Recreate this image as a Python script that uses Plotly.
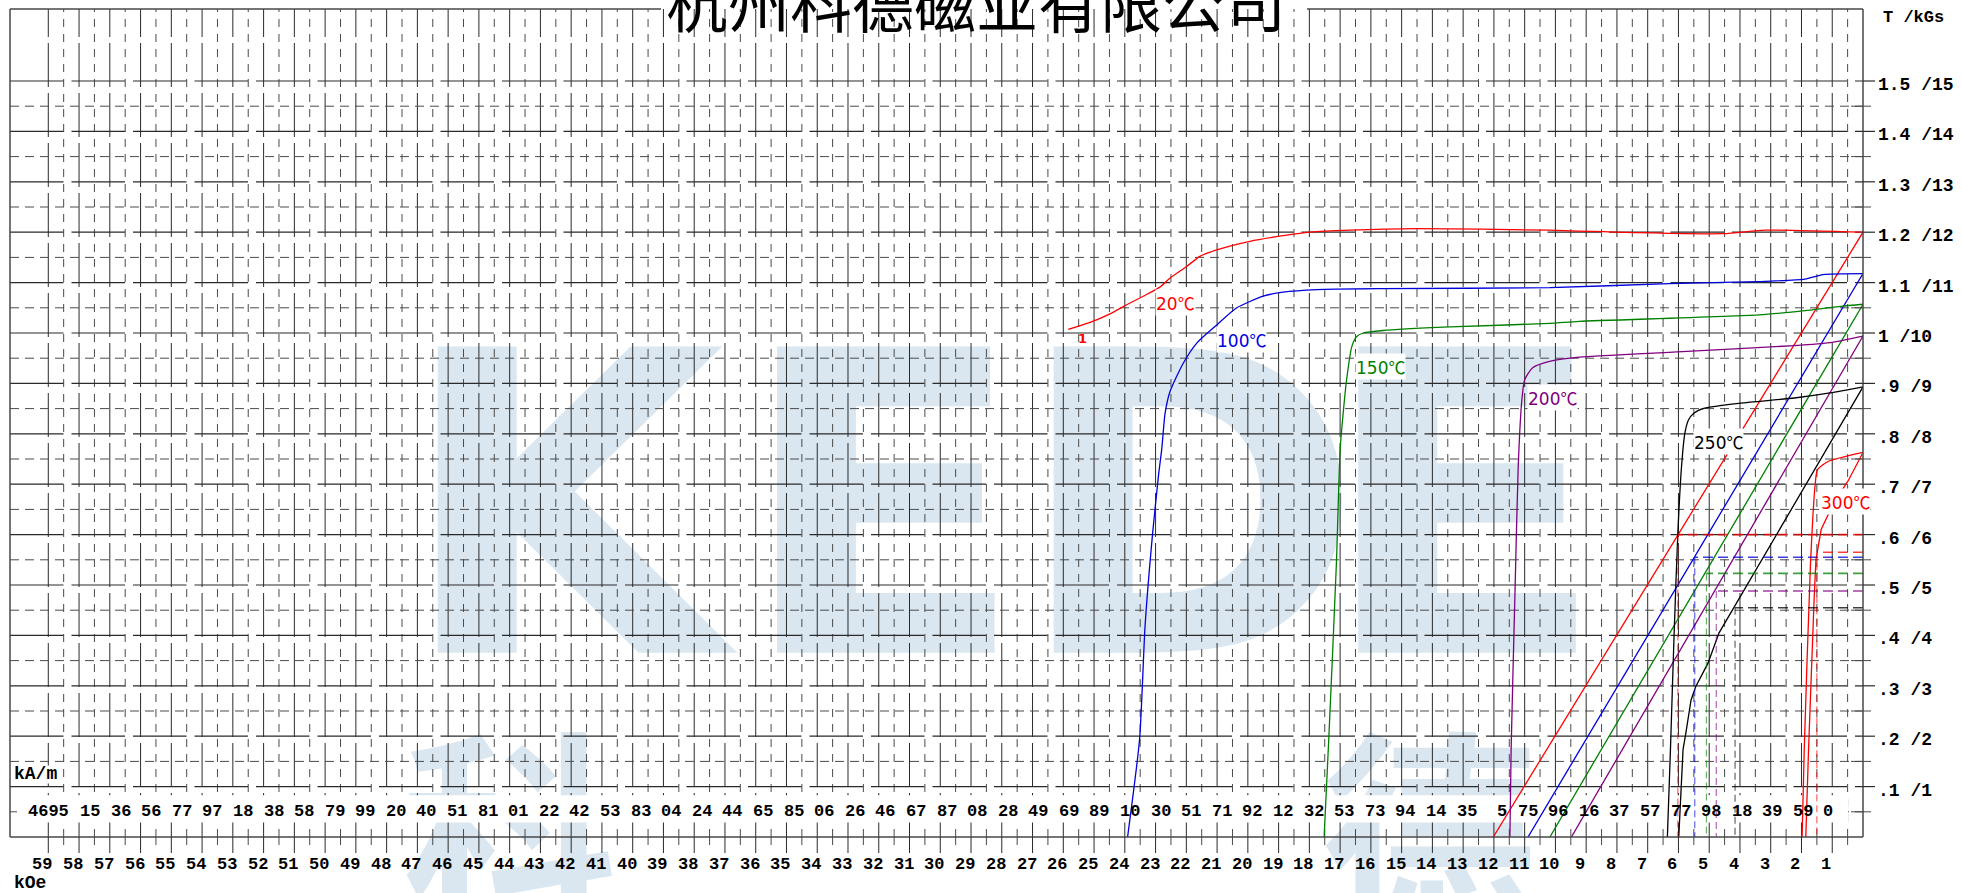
import plotly.graph_objects as go

# ---------------- frame geometry (pixels in the 1962x893 page) ----------------
FIG_W, FIG_H = 1962, 893
PL, PT, PR, PB = 10, 9, 1863, 837          # plot frame
H_MAX = 60.245                              # kOe at the left frame (axis reversed, 0 at right)
B_MAX = (PB - PT) / 504.0                   # Tesla at the top frame

def paper_x(px):
    return (px - PL) / (PR - PL)

def paper_y(py):
    return (PB - py) / (PB - PT)

def h_of_px(px):
    return (PR - px) / ((PR - PL) / H_MAX)

# ---------------- data ----------------
kOe_ticks = list(range(59, 0, -1))
kOe_labels = [str(v) for v in kOe_ticks]

kAm_labels = ["4695", "15", "36", "56", "77", "97", "18", "38", "58", "79", "99", "20",
              "40", "51", "81", "01", "22", "42", "53", "83", "04", "24", "44", "65",
              "85", "06", "26", "46", "67", "87", "08", "28", "49", "69", "89", "10",
              "30", "51", "71", "92", "12", "32", "53", "73", "94", "14", "35", "5",
              "75", "96", "16", "37", "57", "77", "98", "18", "39", "59", "0"]

B_ticks = [1.5, 1.4, 1.3, 1.2, 1.1, 1.0, 0.9, 0.8, 0.7, 0.6, 0.5, 0.4, 0.3, 0.2, 0.1]
B_labels = ["1.5 /15", "1.4 /14", "1.3 /13", "1.2 /12", "1.1 /11", "1 /10", ".9 /9",
            ".8 /8", ".7 /7", ".6 /6", ".5 /5", ".4 /4", ".3 /3", ".2 /2", ".1 /1"]

# intrinsic (J) curves, H in kOe, B in T
j20_H = [25.84, 25.13, 24.48, 23.94, 23.40, 22.86, 22.53, 21.99, 21.56, 21.01, 19.93,
         18.85, 17.98, 16.68, 14.51, 10.18, 9.23, 4.56, 3.17, 0.0]
j20_B = [1.007, 1.021, 1.038, 1.056, 1.073, 1.091, 1.109, 1.132, 1.152, 1.165, 1.182,
         1.193, 1.200, 1.204, 1.207, 1.204, 1.202, 1.197, 1.204, 1.200]

j100_H = [23.91, 23.52, 23.34, 23.10, 22.90, 22.80, 22.69, 22.53, 22.10, 21.66, 21.01,
          20.36, 19.50, 18.85, 17.76, 15.60, 10.18, 6.31, 3.40, 1.89, 1.30, 0.0]
j100_B = [0.0, 0.194, 0.420, 0.600, 0.720, 0.769, 0.841, 0.884, 0.940, 0.980, 1.016,
          1.050, 1.073, 1.081, 1.086, 1.088, 1.090, 1.098, 1.102, 1.107, 1.116, 1.118]

j150_H = [17.52, 17.37, 17.12, 17.00, 16.90, 16.79, 16.62, 16.46, 16.25, 15.60, 13.43,
          10.18, 9.23, 3.40, 1.65, 0.72, 0.0]
j150_B = [0.0, 0.193, 0.544, 0.769, 0.841, 0.907, 0.973, 0.993, 1.000, 1.005, 1.012,
          1.019, 1.023, 1.036, 1.046, 1.053, 1.057]

j200_H = [11.48, 11.44, 11.32, 11.21, 11.09, 11.00, 10.74, 10.16, 9.23, 5.73, 2.23, 1.07, 0.0]
j200_B = [0.0, 0.174, 0.471, 0.735, 0.868, 0.907, 0.931, 0.944, 0.952, 0.9635, 0.975, 0.981, 0.994]

j250_H = [6.36, 6.26, 6.14, 6.02, 5.90, 5.79, 5.67, 5.50, 5.15, 3.98, 2.23, 1.07, 0.0]
j250_B = [0.0, 0.174, 0.405, 0.603, 0.735, 0.802, 0.828, 0.841, 0.851, 0.861, 0.871, 0.881, 0.893]

j300_H = [1.98, 1.91, 1.71, 1.56, 1.48, 1.13, 0.0]
j300_B = [0.0, 0.174, 0.537, 0.696, 0.729, 0.745, 0.763]

# normal (B) curves
b20_H = [12.02, 0.0]
b20_B = [0.0, 1.200]
b100_H = [10.89, 0.0]
b100_B = [0.0, 1.118]
b150_H = [10.18, 0.0]
b150_B = [0.0, 1.057]
b200_H = [9.48, 0.0]
b200_B = [0.0, 0.994]
b250_H = [5.99, 5.85, 5.76, 5.59, 5.44, 5.04, 4.68, 0.0]
b250_B = [0.0, 0.174, 0.206, 0.272, 0.298, 0.345, 0.405, 0.893]
b300_H = [1.86, 1.77, 1.59, 1.53, 1.36, 0.95, 0.49, 0.0]
b300_B = [0.0, 0.174, 0.471, 0.550, 0.610, 0.663, 0.706, 0.763]

# working points (dashed guide lines)
wp_H = [6.02, 5.47, 5.09, 4.77, 4.16, 1.50]
wp_B = [0.600, 0.555, 0.523, 0.488, 0.455, 0.565]

series_colors = ["#ff0000", "#0000dd", "#008000", "#800080", "#000000", "#ff0000"]
temp_values = ["20", "100", "150", "200", "250", "300"]
temp_label_H = [22.34, 20.22, 15.70, 10.08, 4.71, 0.585]
temp_label_B = [1.060, 0.987, 0.933, 0.872, 0.784, 0.665]
num_labels = ["1", "2", "3", "4", "5", "6"]
num_label_H = [25.36, 23.44, 17.01, 10.99, 5.92, 1.53]
num_label_B = [0.990, -0.017, -0.017, -0.017, -0.017, -0.017]

watermark_letters = ["K", "E", "D", "E"]
watermark_H = [42.3, 31.9, 21.9, 13.0]
watermark_B = [0.574, 0.574, 0.574, 0.574]
watermark_cjk = ["科", "德"]
watermark_cjk_H = [44.0, 14.1]
watermark_cjk_B = [0.165, 0.165]      # top edge of the glyphs

title_text = "杭州科德磁业有限公司"

# ---------------- figure ----------------
fig = go.Figure()
WM = "#dae7f1"

# watermark
fig.add_trace(go.Scatter(
    x=watermark_H, y=watermark_B, mode="text", text=watermark_letters,
    textfont=dict(size=420, color=WM, family="DejaVu Sans", weight="bold"),
    hoverinfo="skip", cliponaxis=True))
fig.add_trace(go.Scatter(
    x=watermark_cjk_H, y=watermark_cjk_B, mode="text", text=watermark_cjk,
    textposition="bottom center",
    textfont=dict(size=215, color=WM, family="Noto Sans CJK SC", weight="bold"),
    hoverinfo="skip", cliponaxis=False))

GRID_SOLID = "#2a2a2a"
GRID_DASH = "#4a4a4a"

def seg_trace(xs_list, ys_list, color, width, dash):
    xs, ys = [], []
    for xa, ya in zip(xs_list, ys_list):
        xs += list(xa) + [None]
        ys += list(ya) + [None]
    return go.Scatter(x=xs, y=ys, mode="lines", hoverinfo="skip",
                      line=dict(color=color, width=width, dash=dash), connectgaps=False)

# vertical grid lines
solid_v = [float(v) for v in range(1, 60)]
dash_v = [v + 0.5 for v in range(0, 59)]
fig.add_trace(seg_trace([[v, v] for v in solid_v], [[0, B_MAX]] * len(solid_v),
                        GRID_SOLID, 1, "44px,6px"))
fig.add_trace(seg_trace([[v, v] for v in dash_v], [[0, B_MAX]] * len(dash_v),
                        GRID_DASH, 1, "8px,7px"))
# horizontal grid lines
major_h = [round(0.1 * k, 2) for k in range(1, 16)]
minor_h = [round(0.05 + 0.1 * k, 3) for k in range(0, 15)]
fig.add_trace(seg_trace([[H_MAX, 0]] * len(major_h), [[b, b] for b in major_h],
                        GRID_SOLID, 1.2, "53.5px,8px"))
fig.add_trace(seg_trace([[H_MAX, 0]] * len(minor_h), [[b, b] for b in minor_h],
                        GRID_DASH, 1, "9px,6px"))

# white label strips
def white_box(h0, h1, b0, b1):
    return go.Scatter(x=[h0, h1, h1, h0, h0], y=[b0, b0, b1, b1, b0], mode="lines",
                      fill="toself", fillcolor="white", line=dict(width=0, color="white"),
                      hoverinfo="skip")

fig.add_trace(white_box(h_of_px(17), h_of_px(1848), 0.029, 0.083))
fig.add_trace(white_box(H_MAX, h_of_px(61), 0.106, 0.142))

# curves
curves = [(j20_H, j20_B, b20_H, b20_B), (j100_H, j100_B, b100_H, b100_B),
          (j150_H, j150_B, b150_H, b150_B), (j200_H, j200_B, b200_H, b200_B),
          (j250_H, j250_B, b250_H, b250_B), (j300_H, j300_B, b300_H, b300_B)]
for (jh, jb, bh, bb), col in zip(curves, series_colors):
    fig.add_trace(go.Scatter(x=jh, y=jb, mode="lines",
                             line=dict(color=col, width=1.3, shape="spline", smoothing=0.6),
                             hoverinfo="skip"))
    fig.add_trace(go.Scatter(x=bh, y=bb, mode="lines", line=dict(color=col, width=1.3),
                             hoverinfo="skip"))

# working point guide lines
for h, b, col in zip(wp_H, wp_B, series_colors):
    fig.add_trace(go.Scatter(x=[0, h], y=[b, b], mode="lines", opacity=0.75,
                             line=dict(color=col, width=1.6, dash="10px,5px"), hoverinfo="skip"))
    fig.add_trace(go.Scatter(x=[h, h], y=[b, 0], mode="lines", opacity=0.6,
                             line=dict(color=col, width=1.2, dash="7px,4px"), hoverinfo="skip"))

# ---------------- shapes: frame and outer ticks ----------------
shapes = []
FRAME = "#474747"
def pline(x0, y0, x1, y1, color=FRAME, width=1.5):
    shapes.append(dict(type="line", xref="paper", yref="paper",
                       x0=paper_x(x0), y0=paper_y(y0), x1=paper_x(x1), y1=paper_y(y1),
                       line=dict(color=color, width=width), layer="above"))

pline(PL, PT, PL, PB)
pline(PR, PT, PR, PB)
pline(PL, PB, PR, PB)
pline(PL, PT, 661, PT)
pline(1307, PT, PR, PT)

px_per_kOe = (PR - PL) / H_MAX
px_per_T = 504.0
# right ticks
for b in major_h:
    y = PB - b * px_per_T
    pline(PR, y, PR + 12, y, GRID_SOLID, 1.2)
for b in minor_h:
    y = PB - b * px_per_T
    pline(PR - 12, y, PR + 8, y, GRID_DASH, 1)
# bottom ticks
for v in solid_v:
    x = PR - v * px_per_kOe
    pline(x, PB, x, PB + 16, GRID_SOLID, 1)
for v in dash_v:
    x = PR - v * px_per_kOe
    pline(x, PB, x, PB + 8, GRID_DASH, 1)

# ---------------- annotations ----------------
ann = []
MONO = "Liberation Mono"

for v, lab in zip(kOe_ticks, kOe_labels):
    ann.append(dict(x=v, y=0, xref="x", yref="y", text=lab, showarrow=False,
                    xanchor="center", yanchor="middle", xshift=-6, yshift=-27,
                    font=dict(family=MONO, size=17, color="black", weight="bold")))

kam_step = 0.99454
for i, lab in enumerate(kAm_labels):
    hr = 58.249 - kam_step * i
    if i == len(kAm_labels) - 1:
        hr = h_of_px(1835)
    ann.append(dict(x=hr, y=0.051, xref="x", yref="y", text=lab, showarrow=False,
                    xanchor="right", yanchor="middle",
                    font=dict(family=MONO, size=17, color="black", weight="bold")))

for b, lab in zip(B_ticks, B_labels):
    ann.append(dict(x=paper_x(1876), y=b, xref="paper", yref="y", text=lab, showarrow=False,
                    xanchor="left", yanchor="middle", yshift=-4,
                    font=dict(family=MONO, size=18, color="black", weight="bold")))

ann.append(dict(x=paper_x(1881), y=paper_y(17), xref="paper", yref="paper", text="T /kGs",
                showarrow=False, xanchor="left", yanchor="middle",
                font=dict(family=MONO, size=17, color="black", weight="bold")))
ann.append(dict(x=paper_x(12), y=paper_y(774), xref="paper", yref="paper", text="kA/m",
                showarrow=False, xanchor="left", yanchor="middle",
                font=dict(family=MONO, size=18, color="black", weight="bold")))
ann.append(dict(x=paper_x(12), y=paper_y(883), xref="paper", yref="paper", text="kOe",
                showarrow=False, xanchor="left", yanchor="middle",
                font=dict(family=MONO, size=18, color="black", weight="bold")))

for t, h, b, col in zip(temp_values, temp_label_H, temp_label_B, series_colors):
    txt = t + "<span style='font-family:Noto Sans CJK SC'>℃</span>"
    ann.append(dict(x=h, y=b, xref="x", yref="y", text=txt, showarrow=False,
                    xanchor="center", yanchor="middle", bgcolor="white", borderpad=0,
                    font=dict(family="DejaVu Sans", size=17, color=col)))

for t, h, b, col in zip(num_labels, num_label_H, num_label_B, series_colors):
    ann.append(dict(x=h, y=b, xref="x", yref="y", text=t, showarrow=False,
                    xanchor="center", yanchor="middle",
                    font=dict(family="DejaVu Sans", size=13, color=col, weight="bold")))

ann.append(dict(x=paper_x(976), y=1, xref="paper", yref="paper", text=title_text,
                showarrow=False, xanchor="center", yanchor="middle", yshift=8,
                font=dict(family="Noto Sans CJK SC", size=62, color="black")))

fig.update_layout(
    width=FIG_W, height=FIG_H,
    margin=dict(l=PL, r=FIG_W - PR, t=PT, b=FIG_H - PB, pad=0),
    paper_bgcolor="white", plot_bgcolor="white",
    showlegend=False,
    xaxis=dict(range=[H_MAX, 0], visible=False, fixedrange=True),
    yaxis=dict(range=[0, B_MAX], visible=False, fixedrange=True),
    shapes=shapes, annotations=ann,
)

fig.write_html("out.html", config={"displayModeBar": False},
               post_script="document.body.style.margin='0';document.body.style.overflow='hidden';")
